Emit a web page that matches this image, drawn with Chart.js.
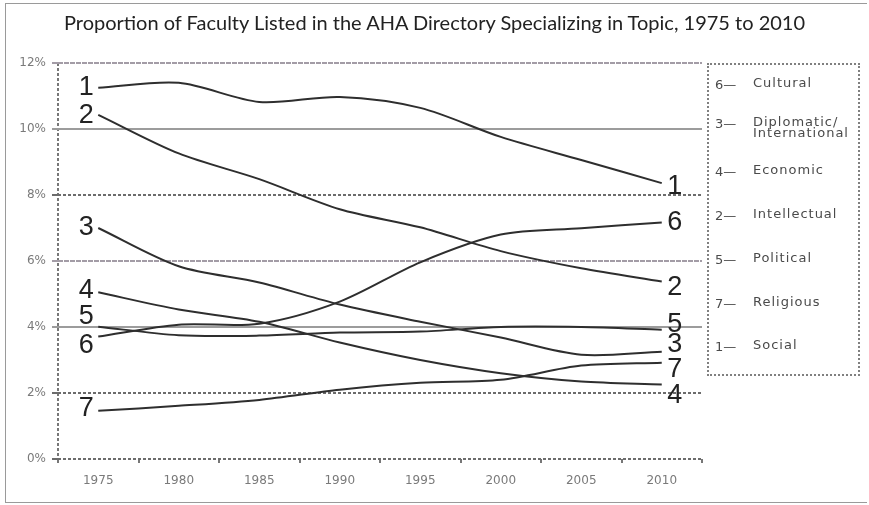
<!DOCTYPE html>
<html>
<head>
<meta charset="utf-8">
<script src="https://cdn.jsdelivr.net/npm/chart.js@4.4.1/dist/chart.umd.min.js"></script>
<style>
  html, body { margin: 0; padding: 0; background: #fff; }
  #wrap { position: relative; width: 869px; height: 505px; }
  #frame { position: absolute; left: 5px; top: 3px; width: 862px; height: 500px; border: 1px solid #9a9a9a; border-right: none; box-sizing: border-box; pointer-events: none; }
  #title { position: absolute; left: 0; top: 10px; width: 869px; text-align: center; font: 20px Lato, "Open Sans", sans-serif; color: #222; white-space: nowrap; }
  #key { position: absolute; left: 707px; top: 63px; width: 153px; height: 313px; border: 2px dotted #808080; box-sizing: border-box; font: 13px "DejaVu Sans", sans-serif; letter-spacing: 1px; color: #4a4a4a; }
  .row { position: absolute; left: 0; transform: translateY(-50%); }
  .num { position: absolute; left: 6px; top: 0; white-space: nowrap; letter-spacing: 0; }
  .txt { margin-left: 44px; line-height: 11.5px; white-space: nowrap; }
</style>
</head>
<body>
<div id="wrap">
  <canvas id="chart" width="869" height="505"></canvas>
  <div id="frame"></div>
  <div id="title">Proportion of Faculty Listed in the AHA Directory Specializing in Topic, 1975 to 2010</div>
  <div id="key"></div>
</div>
<script>
var years = ['1975', '1980', '1985', '1990', '1995', '2000', '2005', '2010'];
var names = ['Social', 'Intellectual', 'Diplomatic/ International', 'Economic', 'Political', 'Cultural', 'Religious'];

// percent of faculty, one array per topic (numbered as on the chart)
var social       = [11.25, 11.4, 10.82, 10.97, 10.64, 9.76, 9.06, 8.36];
var intellectual = [10.43, 9.26, 8.48, 7.57, 7.02, 6.3, 5.78, 5.38];
var diplomatic   = [7.0, 5.84, 5.35, 4.68, 4.16, 3.68, 3.16, 3.25];
var economic     = [5.05, 4.53, 4.16, 3.53, 3.0, 2.6, 2.35, 2.26];
var political    = [4.01, 3.75, 3.74, 3.83, 3.86, 4.0, 4.0, 3.92];
var cultural     = [3.71, 4.07, 4.1, 4.77, 5.96, 6.8, 6.99, 7.17];
var religious    = [1.46, 1.61, 1.79, 2.1, 2.31, 2.4, 2.83, 2.92];

var series = [social, intellectual, diplomatic, economic, political, cultural, religious];

// nudges for the number tags at both ends of each line (px)
var startNudge = [0, 1, 0, -2, -10, 9, -2];
var endNudge = [3, 6, -7, 11, -5, 0, 7];

var datasets = series.map(function (s, i) {
  return {
    label: names[i],
    data: s,
    borderColor: '#2e2e2e',
    borderWidth: 2,
    backgroundColor: 'transparent',
    pointRadius: 0,
    tension: 0.3,
    fill: false
  };
});

var lineTags = {
  id: 'lineTags',
  afterDatasetsDraw: function (chart) {
    var ctx = chart.ctx;
    ctx.save();
    ctx.font = '27px "Liberation Sans", Arial, sans-serif';
    ctx.fillStyle = '#222';
    ctx.textAlign = 'center';
    ctx.textBaseline = 'middle';
    chart.data.datasets.forEach(function (ds, i) {
      var pts = chart.getDatasetMeta(i).data;
      var a = pts[0], b = pts[pts.length - 1];
      ctx.fillText(String(i + 1), a.x - 12, a.y + startNudge[i]);
      ctx.fillText(String(i + 1), b.x + 13, b.y + endNudge[i]);
    });
    ctx.restore();
  }
};

function gridColor(v) {
  if (v === 10 || v === 4) return '#9c9c9c';
  if (v === 12 || v === 6) return '#a39ca6';
  return '#6c6c6c';
}
function gridDash(v) {
  if (v === 10 || v === 4) return [];
  if (v === 12 || v === 6) return [5, 1];
  return [3, 2];
}

new Chart(document.getElementById('chart'), {
  type: 'line',
  data: { labels: years, datasets: datasets },
  plugins: [lineTags],
  options: {
    responsive: false,
    animation: false,
    layout: { padding: { left: 0, right: 167, top: 63, bottom: 0 } },
    plugins: {
      legend: { display: false },
      tooltip: { enabled: false }
    },
    scales: {
      x: {
        offset: true,
        afterFit: function (s) { s.height = 46; },
        grid: {
          offset: true,
          drawOnChartArea: true,
          color: function (c) { return c.index === 0 ? '#777' : 'transparent'; },
          lineWidth: 2,
          tickColor: '#777',
          tickWidth: 2,
          tickLength: 4
        },
        border: { display: false, dash: [3, 2] },
        ticks: {
          color: '#7a7a7a',
          font: { family: '"DejaVu Sans", sans-serif', size: 12 },
          padding: 11,
          maxRotation: 0
        }
      },
      y: {
        min: 0,
        max: 12,
        afterFit: function (s) { s.width = 58; },
        ticks: {
          stepSize: 2,
          color: '#7a7a7a',
          font: { family: '"DejaVu Sans", sans-serif', size: 12 },
          padding: 6,
          callback: function (v) { return v + '%'; }
        },
        grid: {
          color: function (c) { return gridColor(c.tick.value); },
          lineWidth: 2,
          tickLength: 6
        },
        border: {
          display: false,
          dash: function (c) { return gridDash(c.tick ? c.tick.value : 0); }
        }
      }
    }
  }
});

// key box, sorted by topic name
var key = document.getElementById('key');
var order = names.map(function (n, i) { return i; }).sort(function (a, b) {
  return names[a] < names[b] ? -1 : 1;
});
order.forEach(function (idx, r) {
  var row = document.createElement('div');
  row.className = 'row';
  row.style.top = (18 + r * 43.7) + 'px';
  var num = document.createElement('span');
  num.className = 'num';
  num.textContent = (idx + 1) + '\u2014';
  var txt = document.createElement('div');
  txt.className = 'txt';
  txt.innerHTML = names[idx].replace(' ', '<br>');
  row.appendChild(num);
  row.appendChild(txt);
  key.appendChild(row);
});
</script>
</body>
</html>
